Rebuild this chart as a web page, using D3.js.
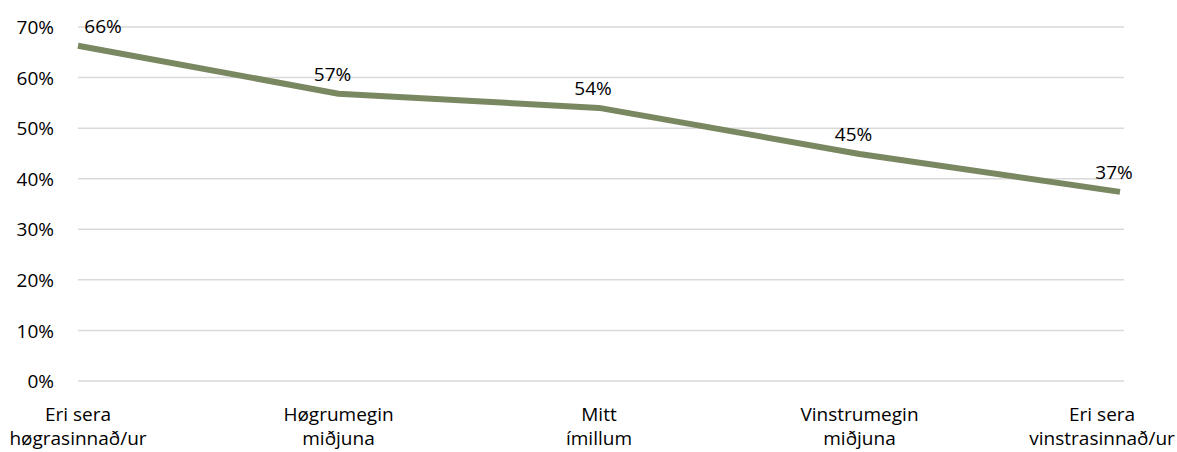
<!DOCTYPE html>
<html><head><meta charset="utf-8">
<script src="https://cdn.jsdelivr.net/npm/d3@7"></script>
<style>body{margin:0;background:#fff}svg{display:block}text{font-family:"Open Sans",sans-serif;fill:#000}</style>
</head><body><svg id="c" width="1177" height="452"></svg>
<script>
const categories = [["Eri sera","høgrasinnað/ur"],["Høgrumegin","miðjuna"],["Mitt","ímillum"],["Vinstrumegin","miðjuna"],["Eri sera","vinstrasinnað/ur"]];
const values = [0.663, 0.568, 0.540, 0.449, 0.374];
const dataLabels = ["66%","57%","54%","45%","37%"];
const yTicks = [0,0.1,0.2,0.3,0.4,0.5,0.6,0.7];

(function(){
const svg = d3.select("#c");
const W = 1177, H = 452;
const pLeft = 78, pTop = 27, pBottom = 381;
const x = d3.scalePoint().domain(d3.range(categories.length)).range([pLeft, 1120]);
const y = d3.scaleLinear().domain([0,0.7]).range([pBottom, pTop]);
const fs = 19;

svg.append("g").selectAll("line").data(yTicks).join("line")
  .attr("x1", pLeft).attr("x2", 1124)
  .attr("y1", d=>y(d)).attr("y2", d=>y(d))
  .attr("stroke", "#d9d9d9").attr("stroke-width", 1.5);

const yAxis = d3.axisLeft(y).tickValues(yTicks).tickFormat(d3.format(".0%")).tickSize(0).tickPadding(0);
const ga = svg.append("g").attr("transform", `translate(54,0)`).call(yAxis);
ga.select(".domain").remove();
ga.selectAll("text").attr("font-size", fs).attr("font-family", "Open Sans").attr("fill","#000").attr("dy","0.35em");

svg.append("path").datum(values)
  .attr("d", d3.line().x((d,i)=>x(i)).y(d=>y(d)))
  .attr("fill","none").attr("stroke","#7a8862").attr("stroke-width",6).attr("stroke-linejoin","round");

svg.append("g").selectAll("text").data(values).join("text")
  .attr("x", (d,i)=>Math.max(x(i)-6, 103))
  .attr("y", d=>y(d)-13)
  .attr("text-anchor","middle").attr("font-size", fs)
  .text((d,i)=>dataLabels[i]);

const cg = svg.append("g");
categories.forEach((lines,i)=>{
  const t = cg.append("text").attr("text-anchor","middle").attr("font-size", fs);
  lines.forEach((l,j)=>{
    t.append("tspan").attr("x", 0).attr("y", 421 + j*24).text(l);
  });
  const bb = t.node().getBBox();
  let cx = x(i);
  const half = bb.width/2;
  if (cx - half < 2) cx = half + 10;
  if (cx + half > W - 2) cx = W - half - 2;
  t.attr("transform", `translate(${cx},0)`);
});
})();
</script></body></html>
